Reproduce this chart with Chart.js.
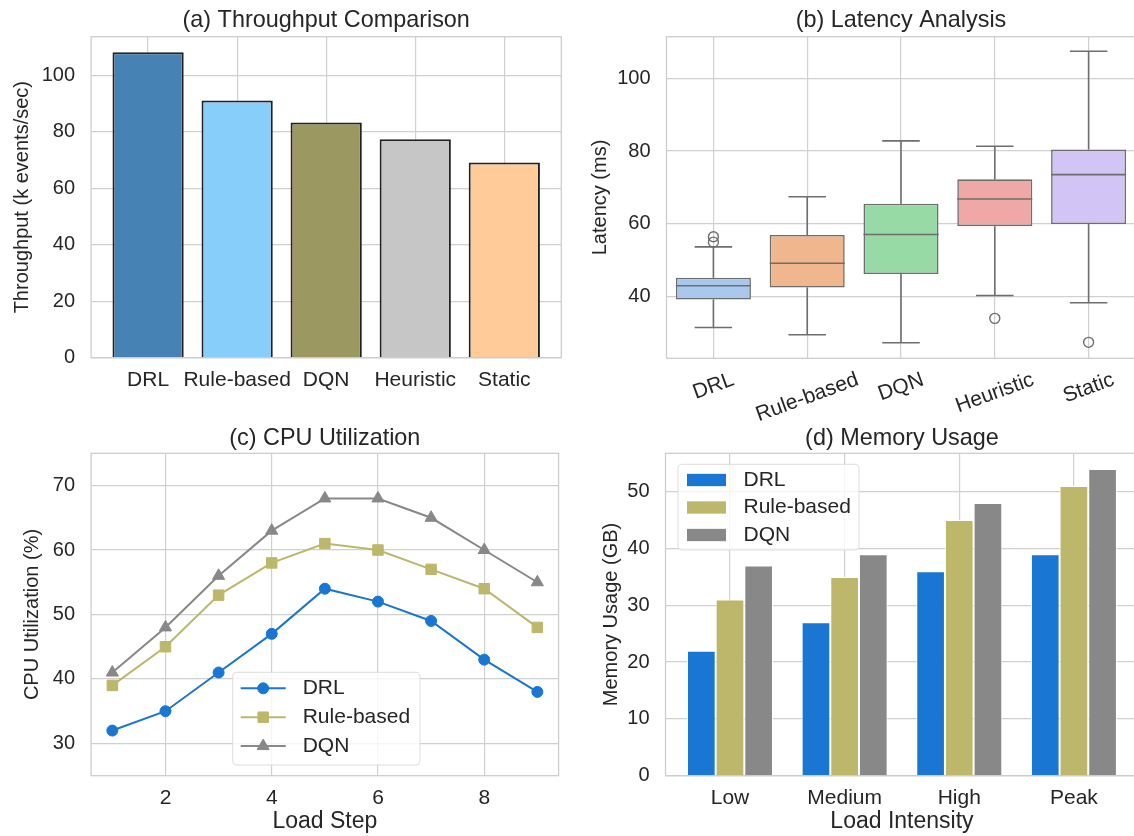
<!DOCTYPE html>
<html>
<head>
<meta charset="utf-8">
<script src="https://cdn.jsdelivr.net/npm/chart.js@4.4.1/dist/chart.umd.min.js"></script>
<style>
html, body { margin: 0; padding: 0; background: #fff; overflow: hidden; width: 1134px; height: 836px; }
canvas { position: absolute; }
</style>
</head>
<body>
<canvas id="throughput" width="567" height="418" style="left:0;top:0"></canvas>
<canvas id="cpu" width="567" height="418" style="left:0;top:418px"></canvas>
<canvas id="memory" width="575" height="418" style="left:567px;top:418px"></canvas>
<canvas id="latency" width="575" height="432" style="left:567px;top:0"></canvas>
<script>
// ---- data ----
const methods = ["DRL", "Rule-based", "DQN", "Heuristic", "Static"]
const throughput = [108.2, 91.1, 83.3, 77.4, 69.1]
const throughputTicks = [0, 20, 40, 60, 80, 100]

const latencyLow = [31.4, 29.4, 27.2, 40.2, 38.2]
const latencyQ1 = [39.1, 42.4, 46.1, 59.3, 59.9]
const latencyMedian = [42.9, 49.1, 57.0, 66.8, 73.5]
const latencyQ3 = [45.1, 56.9, 65.5, 72.2, 80.4]
const latencyHigh = [53.6, 67.4, 82.8, 81.3, 107.5]
const latencyOutliers = [[56.4, 54.9], [], [], [33.9], [27.3]]
const latencyTicks = [40, 60, 80, 100]

const loadSteps = [1, 2, 3, 4, 5, 6, 7, 8, 9]
const cpuDRL = [32, 35, 41, 47, 54, 52, 49, 43, 38]
const cpuRule = [39, 45, 53, 58, 61, 60, 57, 54, 48]
const cpuDQN = [41, 48, 56, 63, 68, 68, 65, 60, 55]
const cpuXTicks = [2, 4, 6, 8]
const cpuYTicks = [30, 40, 50, 60, 70]

const intensities = ["Low", "Medium", "High", "Peak"]
const memDRL = [22, 27, 36, 39]
const memRule = [31, 35, 45, 51]
const memDQN = [37, 39, 48, 54]
const memTicks = [0, 10, 20, 30, 40, 50]

// ---- look ----
const ink = "#262626", gridColor = "#d0d0d0", boxLine = "#6e6e6e"
const family = "'Liberation Sans', Arial, sans-serif"
const barColors = ["#4682B4", "#87CEFA", "#9B9862", "#C6C6C6", "#FFCC99"]
const boxColors = ["#a8c8ee", "#f0b68e", "#98daa6", "#f0a8a6", "#d2c4f4"]
const blue = "#1976D2", khaki = "#BDB76B", grey = "#888888"

Chart.defaults.font.family = family
Chart.defaults.color = ink
Chart.defaults.plugins.legend.display = false
Chart.defaults.plugins.tooltip.enabled = false

const font = size => ({ size: size, lineHeight: 1, weight: "normal" })
const fixedTicks = vals => s => { s.ticks = vals.map(v => ({ value: v })) }

function titleOpt(text, top, bottom) {
    return { display: true, text: text, fullSize: false, font: font(23.4), color: ink, padding: { top: top, bottom: bottom } }
}

function yAxis(min, max, ticks, label, width, labelPad) {
    return {
        type: "linear", min: min, max: max, beginAtZero: false,
        afterBuildTicks: fixedTicks(ticks),
        afterFit: s => { s.width = width },
        grid: { color: gridColor, lineWidth: 1.2, drawTicks: false },
        border: { display: false },
        ticks: { font: font(20), padding: 16, color: ink },
        title: { display: true, text: label, font: font(20), color: ink, padding: { top: labelPad, bottom: 0 } }
    }
}

function xAxis(min, max, ticks, height, names, label) {
    const axis = {
        type: "linear", min: min, max: max, offset: false,
        afterBuildTicks: fixedTicks(ticks),
        afterFit: s => { s.height = height },
        grid: { color: gridColor, lineWidth: 1.2, drawTicks: false, offset: false },
        border: { display: false },
        ticks: { font: font(21), padding: 12.5, color: ink, maxRotation: 0,
            callback: v => names ? names[v] : v }
    }
    if (label) axis.title = { display: true, text: label, font: font(23), color: ink, padding: { top: 0, bottom: 2.5 } }
    return axis
}

const frame = {
    id: "frame",
    afterDatasetsDraw(chart) {
        const { ctx, chartArea: a } = chart
        ctx.save()
        ctx.strokeStyle = "#cccccc"
        ctx.lineWidth = 1.25
        ctx.strokeRect(a.left, a.top, a.right - a.left, a.bottom - a.top)
        ctx.restore()
    }
}

const boxLegend = {
    id: "boxLegend",
    afterDraw(chart, args, o) {
        if (!o || !o.w) return
        const { ctx, chartArea: a } = chart
        const x0 = a.left + o.dx, y0 = a.top + o.dy
        ctx.save()
        ctx.beginPath()
        if (ctx.roundRect) ctx.roundRect(x0, y0, o.w, o.h, 4)
        else ctx.rect(x0, y0, o.w, o.h)
        ctx.fillStyle = "rgba(255,255,255,0.8)"
        ctx.fill()
        ctx.strokeStyle = "#dcdcdc"
        ctx.lineWidth = 1
        ctx.stroke()
        ctx.font = "21px " + family
        ctx.textBaseline = "middle"
        chart.data.datasets.forEach((ds, i) => {
            const y = y0 + o.first + i * o.step
            if (o.kind === "line") {
                ctx.strokeStyle = ds.borderColor
                ctx.lineWidth = ds.borderWidth
                ctx.beginPath()
                ctx.moveTo(x0 + o.sx, y)
                ctx.lineTo(x0 + o.sx + o.sw, y)
                ctx.stroke()
                ctx.fillStyle = ds.pointBackgroundColor
                ctx.strokeStyle = ds.pointBorderColor
                ctx.lineWidth = ds.pointBorderWidth
                Chart.helpers.drawPoint(ctx, { pointStyle: ds.pointStyle, radius: ds.pointRadius, borderWidth: ds.pointBorderWidth, rotation: 0 },
                    x0 + o.sx + o.sw / 2, y)
            } else {
                ctx.fillStyle = ds.backgroundColor
                ctx.fillRect(x0 + o.sx, y - o.ph / 2, o.sw, o.ph)
            }
            ctx.fillStyle = ink
            ctx.fillText(ds.label, x0 + o.tx, y)
        })
        ctx.restore()
    }
}

const slantLabels = {
    id: "slantLabels",
    afterDraw(chart, args, o) {
        if (!o || !o.labels) return
        const { ctx } = chart
        const x = chart.scales.x
        const ang = o.angle * Math.PI / 180
        ctx.save()
        ctx.font = o.size + "px " + family
        ctx.fillStyle = ink
        ctx.textAlign = "center"
        ctx.textBaseline = "middle"
        o.labels.forEach((t, i) => {
            const w = ctx.measureText(t).width
            const h = w * Math.sin(ang) + o.size * Math.cos(ang)
            ctx.save()
            ctx.translate(x.getPixelForValue(i), x.top + o.pad + h / 2)
            ctx.rotate(-ang)
            ctx.fillText(t, 0, 0)
            ctx.restore()
        })
        ctx.restore()
    }
}

const base = { responsive: false, animation: false, devicePixelRatio: 1, events: [] }

// (a) throughput
new Chart(document.querySelector("#throughput"), {
    type: "bar",
    data: {
        datasets: [{
            data: methods.map((m, i) => ({ x: i, y: throughput[i] })),
            backgroundColor: barColors,
            borderColor: "#222222",
            borderWidth: 2,
            barPercentage: 1,
            categoryPercentage: 0.8
        }]
    },
    options: Object.assign({}, base, {
        layout: { padding: { top: 0, left: 0, bottom: 0, right: 5.7 } },
        plugins: { title: titleOpt("(a) Throughput Comparison", 9.3, 4) },
        scales: {
            x: xAxis(-0.64, 4.64, [0, 1, 2, 3, 4], 60.3, methods),
            y: yAxis(0, 113.7, throughputTicks, "Throughput (k events/sec)", 91.1, 12)
        }
    }),
    plugins: [frame]
})

// (b) latency box plot
const whiskers = methods.flatMap((m, i) => [
    { x: i, y: latencyQ1[i] }, { x: i, y: latencyLow[i] }, { x: i, y: null },
    { x: i, y: latencyQ3[i] }, { x: i, y: latencyHigh[i] }, { x: i, y: null }
])
const caps = methods.flatMap((m, i) => [
    { x: i - 0.2, y: latencyLow[i] }, { x: i + 0.2, y: latencyLow[i] }, { x: i + 0.2, y: null },
    { x: i - 0.2, y: latencyHigh[i] }, { x: i + 0.2, y: latencyHigh[i] }, { x: i + 0.2, y: null }
])
const medians = methods.flatMap((m, i) => [
    { x: i - 0.4, y: latencyMedian[i] }, { x: i + 0.4, y: latencyMedian[i] }, { x: i + 0.4, y: null }
])
const outliers = latencyOutliers.flatMap((vals, i) => vals.map(v => ({ x: i, y: v })))
const thinLine = { type: "line", borderColor: boxLine, borderWidth: 1.6, pointRadius: 0, spanGaps: false, fill: false }

new Chart(document.querySelector("#latency"), {
    type: "bar",
    data: {
        datasets: [
            {
                type: "bar", label: "box",
                data: methods.map((m, i) => ({ x: i, y: [latencyQ1[i], latencyQ3[i]] })),
                backgroundColor: boxColors, borderColor: boxLine, borderWidth: 1.6, borderSkipped: false,
                barPercentage: 1, categoryPercentage: 0.8, order: 3
            },
            Object.assign({ label: "whisker", data: whiskers, order: 2 }, thinLine),
            Object.assign({ label: "cap", data: caps, order: 2 }, thinLine),
            Object.assign({ label: "median", data: medians, order: 1 }, thinLine),
            {
                type: "scatter", label: "outlier", data: outliers, order: 0,
                pointStyle: "circle", pointRadius: 5, pointBackgroundColor: "rgba(0,0,0,0)",
                pointBorderColor: boxLine, pointBorderWidth: 1.4
            }
        ]
    },
    options: Object.assign({}, base, {
        layout: { padding: { top: 0, left: 0, bottom: 0, right: 6.5 } },
        plugins: {
            title: titleOpt("(b) Latency Analysis", 9.3, 4),
            slantLabels: { labels: methods, angle: 20, size: 21, pad: 11 }
        },
        scales: {
            x: Object.assign(xAxis(-0.5, 4.5, [0, 1, 2, 3, 4], 73.7, methods), { ticks: { display: false } }),
            y: yAxis(22.9, 111.5, latencyTicks, "Latency (ms)", 99.5, 23.5)
        }
    }),
    plugins: [frame, slantLabels]
})

// (c) CPU utilization
function cpuSeries(label, vals, color, style, radius) {
    return {
        label: label,
        data: loadSteps.map((s, i) => ({ x: s, y: vals[i] })),
        borderColor: color, borderWidth: 2,
        pointStyle: style, pointRadius: radius,
        pointBackgroundColor: color, pointBorderColor: color, pointBorderWidth: 1
    }
}

new Chart(document.querySelector("#cpu"), {
    type: "line",
    data: {
        datasets: [
            Object.assign(cpuSeries("DRL", cpuDRL, blue, "circle", 5.5), { order: 3 }),
            Object.assign(cpuSeries("Rule-based", cpuRule, khaki, "rect", 7.4), { order: 2 }),
            Object.assign(cpuSeries("DQN", cpuDQN, grey, "triangle", 7), { order: 1 })
        ]
    },
    options: Object.assign({}, base, {
        layout: { padding: { top: 0, left: 0, bottom: 0, right: 5.7 } },
        plugins: {
            title: titleOpt("(c) CPU Utilization", 8.6, 3.3),
            boxLegend: { kind: "line", dx: 141.6, dy: 219, w: 187.3, h: 92.7, first: 16, step: 28.9, sx: 8, sw: 45, tx: 70 }
        },
        scales: {
            x: xAxis(0.6, 9.4, cpuXTicks, 60.3, null, "Load Step"),
            y: yAxis(25, 75, cpuYTicks, "CPU Utilization (%)", 91.1, 22.5)
        }
    }),
    plugins: [frame, boxLegend]
})

// (d) memory usage
function memSeries(label, vals, color) {
    return {
        label: label,
        data: intensities.map((n, i) => ({ x: i, y: vals[i] })),
        backgroundColor: color, borderColor: "#ffffff", borderWidth: 1,
        barPercentage: 1, categoryPercentage: 0.75
    }
}

new Chart(document.querySelector("#memory"), {
    type: "bar",
    data: {
        datasets: [
            memSeries("DRL", memDRL, blue),
            memSeries("Rule-based", memRule, khaki),
            memSeries("DQN", memDQN, grey)
        ]
    },
    options: Object.assign({}, base, {
        layout: { padding: { top: 0, left: 0, bottom: 0, right: 3.6 } },
        plugins: {
            title: titleOpt("(d) Memory Usage", 8.6, 3.3),
            boxLegend: { kind: "patch", dx: 12.5, dy: 11, w: 181, h: 85.7, first: 15.7, step: 27.5, sx: 9, sw: 39, ph: 12.3, tx: 65.5 }
        },
        scales: {
            x: xAxis(-0.5625, 3.5625, [0, 1, 2, 3], 60.3, intensities, "Load Intensity"),
            y: yAxis(0, 56.76, memTicks, "Memory Usage (GB)", 98.5, 34.3)
        }
    }),
    plugins: [frame, boxLegend]
})
</script>
</body>
</html>
